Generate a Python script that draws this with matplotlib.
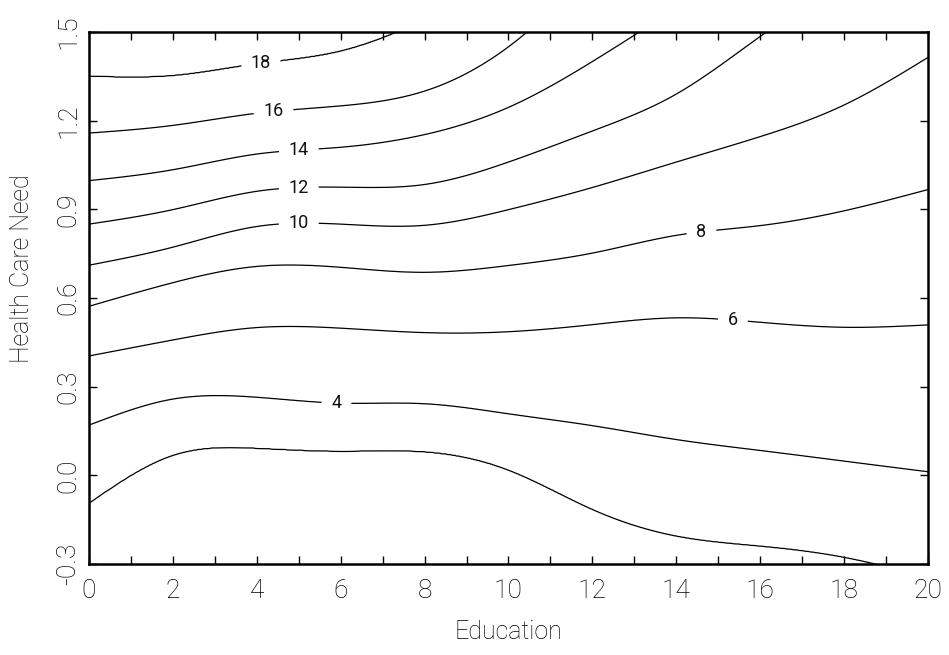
import numpy as np
import matplotlib
matplotlib.use("Agg")
import matplotlib.pyplot as plt

# contour levels and where each line crosses x = 0, 2, ..., 20 (
# values above 1.5 / below -0.3 only set where a line leaves the frame)
levels = [2, 4, 6, 8, 10, 12, 14, 16, 18]
educ = np.arange(0, 21, 2)

need_2 = [-0.094, 0.068, 0.092, 0.082, 0.080, 0.018, -0.115, -0.205, -0.239, -0.277, -0.345]
need_4 = [0.170, 0.258, 0.264, 0.244, 0.242, 0.208, 0.168, 0.121, 0.084, 0.048, 0.012]
need_6 = [0.404, 0.458, 0.500, 0.498, 0.483, 0.486, 0.510, 0.533, 0.518, 0.501, 0.509]
need_8 = [0.572, 0.652, 0.707, 0.704, 0.687, 0.710, 0.752, 0.812, 0.845, 0.895, 0.967]
need_10 = [0.711, 0.772, 0.842, 0.850, 0.846, 0.899, 0.974, 1.060, 1.146, 1.253, 1.414]
need_12 = [0.850, 0.899, 0.961, 0.975, 0.984, 1.060, 1.165, 1.290, 1.485, 1.680, 1.880]
need_14 = [0.997, 1.034, 1.087, 1.110, 1.153, 1.245, 1.400, 1.580, 1.760, 1.940, 2.120]
need_16 = [1.158, 1.184, 1.225, 1.250, 1.300, 1.450, 1.700, 1.950, 2.200, 2.450, 2.700]
need_18 = [1.350, 1.352, 1.392, 1.435, 1.540, 1.680, 1.850, 2.050, 2.300, 2.550, 2.850]
lines = [need_2, need_4, need_6, need_8, need_10, need_12, need_14, need_16, need_18]

# where the labels sit
label_pos = [(5.9, 0.245), (15.35, 0.53), (14.6, 0.823), (5.0, 0.848),
             (5.0, 0.975), (5.0, 1.105), (4.4, 1.23), (4.1, 1.385)]


def spline(xk, yk, xf):
    # natural cubic spline through the read points
    xk = np.asarray(xk, float)
    yk = np.asarray(yk, float)
    n = len(xk)
    h = np.diff(xk)
    A = np.zeros((n, n))
    b = np.zeros(n)
    A[0, 0] = A[-1, -1] = 1
    for i in range(1, n - 1):
        A[i, i - 1] = h[i - 1]
        A[i, i] = 2 * (h[i - 1] + h[i])
        A[i, i + 1] = h[i]
        b[i] = 3 * ((yk[i + 1] - yk[i]) / h[i] - (yk[i] - yk[i - 1]) / h[i - 1])
    c = np.linalg.solve(A, b)
    bb = (yk[1:] - yk[:-1]) / h - h * (2 * c[:-1] + c[1:]) / 3
    d = (c[1:] - c[:-1]) / (3 * h)
    i = np.clip(np.searchsorted(xk, xf) - 1, 0, n - 2)
    dx = xf - xk[i]
    return yk[i] + bb[i] * dx + c[i] * dx**2 + d[i] * dx**3


# build a field whose contours follow the read lines
xf = np.linspace(0, 20, 801)
yf = np.linspace(-0.3, 1.5, 721)
curves = np.array([spline(educ, l, xf) for l in lines])
Z = np.empty((len(yf), len(xf)))
for j in range(len(xf)):
    ys = np.concatenate([[-1.5], curves[:, j], [3.5]])
    zs = np.concatenate([[0], levels, [20]])
    Z[:, j] = np.interp(yf, ys, zs)

plt.rcParams['font.family'] = ['Roboto', 'DejaVu Sans']
plt.rcParams['font.weight'] = 'light'

fig = plt.figure(figsize=(9.49, 6.55), dpi=100)
ax = fig.add_axes([89 / 949, (655 - 564) / 655, 839 / 949, 532 / 655])

ax.contour(xf, yf, Z, levels=levels[:1], colors='black', linewidths=0.9)
cs = ax.contour(xf, yf, Z, levels=levels[1:], colors='black', linewidths=0.9)
labels = ax.clabel(cs, fmt='%d', fontsize=13, inline=True,
                   inline_spacing=10, manual=label_pos)
for t in labels:
    t.set_rotation(0)
    t.set_fontweight('normal')
    t.set_color('#111111')

ax.set_xlim(0, 20)
ax.set_ylim(-0.3, 1.5)
ax.set_xticks(np.arange(0, 21, 2))
ax.set_xticks(np.arange(1, 21, 2), minor=True)
ax.set_yticks(np.round(np.arange(-0.3, 1.51, 0.3), 1))
ax.set_yticklabels(['%.1f' % v for v in np.arange(-0.3, 1.51, 0.3)],
                   rotation=90, va='center')
ax.tick_params(which='both', direction='in', length=6, width=1,
               top=True, right=True, labelsize=19, labelcolor='black')
ax.tick_params(axis='x', pad=11)
ax.tick_params(axis='y', pad=6)
for s in ax.spines.values():
    s.set_linewidth(1.8)

ax.set_xlabel('Education', fontsize=18, fontweight='light', va='center')
ax.set_ylabel('Health Care Need', fontsize=18, fontweight='light', va='center')
ax.xaxis.set_label_coords(0.5, -0.128)
ax.yaxis.set_label_coords(-0.080, 0.556)

fig.savefig('out.png', dpi=100)
